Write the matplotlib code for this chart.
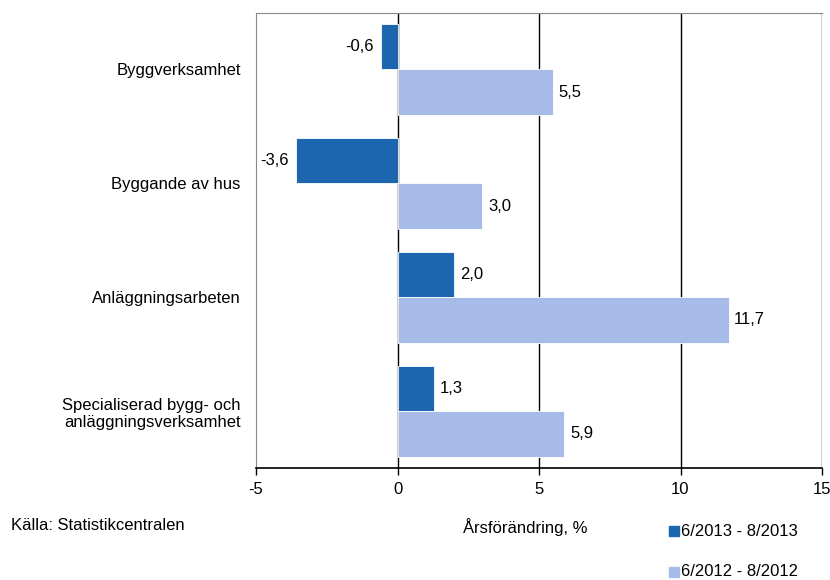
import matplotlib.pyplot as plt
from matplotlib.patches import Rectangle

categories = ["Byggverksamhet", "Byggande av hus", "Anläggningsarbeten",
              "Specialiserad bygg- och\nanläggningsverksamhet"]
series_names = ["6/2013 - 8/2013", "6/2012 - 8/2012"]
vals_2013 = [-0.6, -3.6, 2.0, 1.3]
vals_2012 = [5.5, 3.0, 11.7, 5.9]
xticks = [-5, 0, 5, 10, 15]

dark = "#1c66b0"
light = "#a6bbe8"
FS = 12

plt.rcParams['font.family'] = ['Liberation Sans', 'DejaVu Sans']
fig = plt.figure(figsize=(8.3, 5.8), dpi=100)
ax = fig.add_axes([256/830, 1-468/580, (822-256)/830, (468-12.5)/580])

h = 0.4
ys = list(range(len(categories)))
ax.barh([y - h/2 for y in ys], vals_2013, height=h, color=dark, edgecolor='white', linewidth=0.6, zorder=3)
ax.barh([y + h/2 for y in ys], vals_2012, height=h, color=light, edgecolor='white', linewidth=0.6, zorder=3)

def fmt(v):
    return f"{v:.1f}".replace('.', ',')

for y, v in zip(ys, vals_2013):
    ax.annotate(fmt(v), (v, y - h/2), xytext=(-5 if v < 0 else 4, 0), textcoords='offset points',
                ha='right' if v < 0 else 'left', va='center', fontsize=FS, zorder=4)
for y, v in zip(ys, vals_2012):
    ax.annotate(fmt(v), (v, y + h/2), xytext=(-5 if v < 0 else 4, 0), textcoords='offset points',
                ha='right' if v < 0 else 'left', va='center', fontsize=FS, zorder=4)

ax.set_xlim(-5, 15)
ax.set_ylim(3.5, -0.5)
ax.set_xticks(xticks)
ax.set_xticklabels([str(t) for t in xticks], fontsize=FS)
ax.set_yticks(ys)
ax.set_yticklabels(categories, fontsize=FS)
ax.tick_params(axis='y', length=0, pad=11)
ax.tick_params(axis='x', length=5, width=1, direction='out', color='black', pad=5)
for t in xticks[1:]:
    ax.axvline(t, color='black', linewidth=1, zorder=2)
for s in ['left', 'top', 'right']:
    ax.spines[s].set_color('#888888')
ax.spines['right'].set_visible(False)
ax.spines['bottom'].set_color('black')
ax.spines['bottom'].set_linewidth(1.2)

fig.text(11/830, 1-525/580, "Källa: Statistikcentralen", fontsize=FS, va='center', ha='left')
fig.text(525/830, 1-527/580, "Årsförändring, %", fontsize=FS, va='center', ha='center')

for i, (name, col) in enumerate(zip(series_names, [dark, light])):
    yc = 531 + i*41
    fig.patches.append(Rectangle((669/830, 1-(yc+5)/580), 10/830, 10/580, color=col, transform=fig.transFigure))
    fig.text(681/830, 1-yc/580, name, fontsize=FS, va='center', ha='left')

fig.savefig("out.png", dpi=100)
